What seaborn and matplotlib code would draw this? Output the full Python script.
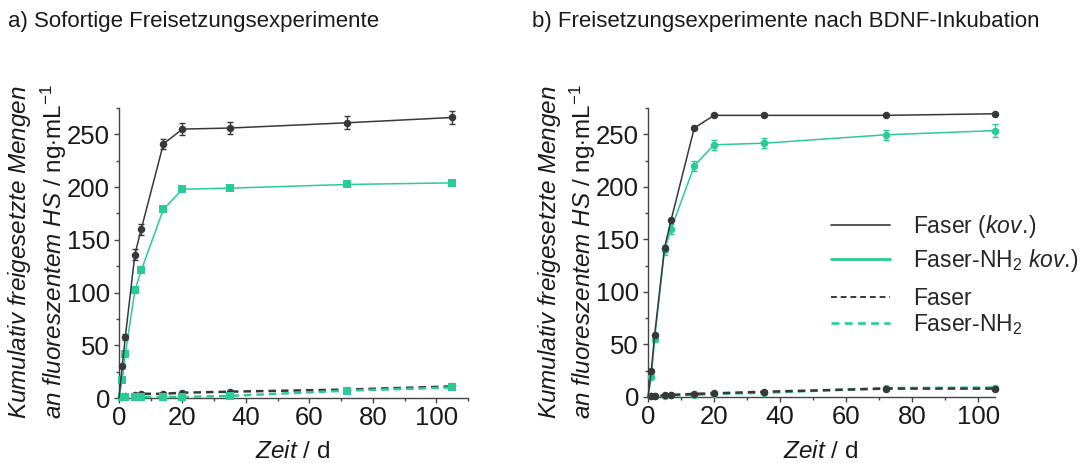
import numpy as np
import pandas as pd
import matplotlib
matplotlib.use("Agg")
import matplotlib.pyplot as plt
import seaborn as sns
from matplotlib.lines import Line2D
from matplotlib.ticker import MultipleLocator

# Sampling days
days = [0, 1, 2, 5, 7, 14, 20, 35, 72, 105]

# a) immediate release
a_faser_kov = [0, 30, 58, 136, 160, 241, 255, 256, 261, 266]
a_faser_kov_err = [0, 2, 3, 5, 5, 5, 6, 6, 6, 6]
a_nh2_kov = [0, 17, 42, 102, 121, 179, 198, 199, 202.5, 204]
a_nh2_kov_err = [0, 1, 1, 1, 1, 1, 1, 1, 1.5, 1.5]
a_faser = [0, 1, 2, 3, 4, 4, 5, 6, 8, 11]
a_faser_err = [0, 0.5, 0.5, 0.5, 0.5, 0.5, 0.5, 1, 1.5, 2]
a_nh2 = [0, 0.5, 1, 1, 1, 1, 1, 2, 7, 10]
a_nh2_err = [0, 0.5, 0.5, 0.5, 0.5, 0.5, 0.5, 0.5, 1, 1.5]

# b) release after BDNF incubation
b_faser_kov = [0, 25, 59, 142, 168.5, 256, 268, 268, 268, 269.5]
b_faser_kov_err = [0, 1, 1, 1, 1, 1, 1, 1, 1, 1]
b_nh2_kov = [0, 19.5, 55, 140, 160, 220, 240, 241.5, 249.5, 253.5]
b_nh2_kov_err = [0, 2, 3, 5, 5, 5, 5, 5, 5, 6]
b_faser = [0, 1, 1, 1.5, 2, 3, 3.5, 5, 8, 8]
b_faser_err = [0, 0.5, 0.5, 0.5, 0.5, 0.5, 0.5, 1, 1, 1]
b_nh2 = [0, 0.5, 0.5, 1, 1.5, 2, 3, 4, 8.5, 9]
b_nh2_err = [0, 0.5, 0.5, 0.5, 0.5, 0.5, 0.5, 0.5, 1, 1]

titles = ["a) Sofortige Freisetzungsexperimente",
          "b) Freisetzungsexperimente nach BDNF-Inkubation"]
legend_labels = ["Faser ($\\mathit{kov.}\\!$)", "Faser-NH$_2$ $\\mathit{kov.}\\!$)",
                 "Faser", "Faser-NH$_2$"]

DARK = "#383838"
GREEN = "#2acb98"

sns.set_style("ticks")
plt.rcParams["font.family"] = ["Liberation Sans", "DejaVu Sans"]
plt.rcParams["mathtext.fontset"] = "custom"
plt.rcParams["mathtext.rm"] = "Liberation Sans"
plt.rcParams["mathtext.it"] = "Liberation Sans:italic"
plt.rcParams["mathtext.bf"] = "Liberation Sans:bold"

W, H = 1081, 463
fig = plt.figure(figsize=(W / 100, H / 100), dpi=100)


def px_axes(l, r, b, t):
    return fig.add_axes([l / W, 1 - b / H, (r - l) / W, (b - t) / H])


ax_a = px_axes(119, 468, 398, 108)
ax_b = px_axes(648, 995, 397, 108)


def draw_series(ax, y, err, color, marker, dashed):
    df = pd.DataFrame({"Zeit": days, "Menge": y})
    sns.lineplot(data=df, x="Zeit", y="Menge", ax=ax, color=color,
                 marker=marker, markersize=5.4, markeredgewidth=0,
                 markevery=list(range(1, len(days))),
                 linewidth=1.8 if dashed else 1.1,
                 linestyle=(0, (3.0, 2.0)) if dashed else "-",
                 clip_on=False, zorder=3, errorbar=None)
    ax.errorbar(days[1:], y[1:], yerr=err[1:], fmt="none", ecolor=color,
                elinewidth=1.0, capsize=2.5, capthick=1.0, zorder=2,
                clip_on=False)


panels = [
    (ax_a, [(a_faser, a_faser_err, DARK, "o", True),
            (a_nh2, a_nh2_err, GREEN, "s", True),
            (a_nh2_kov, a_nh2_kov_err, GREEN, "s", False),
            (a_faser_kov, a_faser_kov_err, DARK, "o", False)], 110),
    (ax_b, [(b_nh2, b_nh2_err, GREEN, "o", True),
            (b_faser, b_faser_err, DARK, "o", True),
            (b_nh2_kov, b_nh2_kov_err, GREEN, "o", False),
            (b_faser_kov, b_faser_kov_err, DARK, "o", False)], 105),
]

for ax, series, xmax in panels:
    for y, err, color, marker, dashed in series:
        draw_series(ax, y, err, color, marker, dashed)
    ax.set_xlim(0, xmax)
    ax.set_ylim(0, 275)
    ax.xaxis.set_major_locator(MultipleLocator(20))
    ax.xaxis.set_minor_locator(MultipleLocator(10))
    ax.yaxis.set_major_locator(MultipleLocator(50))
    ax.yaxis.set_minor_locator(MultipleLocator(25))
    ax.tick_params(axis="both", which="major", direction="out", length=3.5,
                   width=1.0, color="#444444", labelsize=18.5, pad=2.0,
                   labelcolor="#1a1a1a")
    ax.tick_params(axis="both", which="minor", direction="out", length=2,
                   width=1.0, color="#444444")
    ax.tick_params(axis="y", which="major", pad=3.0)
    for side in ("top", "right"):
        ax.spines[side].set_visible(False)
    for side in ("left", "bottom"):
        ax.spines[side].set_color("#444444")
        ax.spines[side].set_linewidth(1.0)
    ax.set_xlabel("")
    ax.set_ylabel("")

ylabel = ("$\\mathit{Kumulativ\\ freigesetzte\\ Mengen}$\n"
          "$\\mathit{an\\ fluoreszentem\\ HS}$ / ng$\\cdot$mL$^{-1}$")
xlabel = "$\\mathit{Zeit}$ / d"

for ax, cx_y, cx_x in [(ax_a, 37.5, 293), (ax_b, 567, 821)]:
    fig.text(cx_y / W, 1 - 252 / H, ylabel, rotation=90, ha="center",
             va="center", fontsize=17.5, linespacing=1.22, color="#1a1a1a")
    fig.text(cx_x / W, 1 - 452 / H, xlabel, ha="center", va="center",
             fontsize=17.5, color="#1a1a1a")

fig.text(8 / W, 1 - 21 / H, titles[0], ha="left", va="center",
         fontsize=16, color="#1a1a1a")
fig.text(532 / W, 1 - 21 / H, titles[1], ha="left", va="center",
         fontsize=16, color="#1a1a1a")

handles_solid = [Line2D([], [], color=DARK, lw=1.2),
                 Line2D([], [], color=GREEN, lw=2.0)]
handles_dash = [Line2D([], [], color=DARK, lw=1.4, ls=(0, (3.0, 2.0))),
                Line2D([], [], color=GREEN, lw=1.9, ls=(0, (3.0, 2.0)))]

leg1 = ax_b.legend(handles_solid, legend_labels[:2], loc="upper left",
                   bbox_to_anchor=(0.527, 0.637), frameon=False, fontsize=16.5,
                   handlelength=2.6, handletextpad=1.0, labelspacing=0.32,
                   borderpad=0, borderaxespad=0)
ax_b.add_artist(leg1)
ax_b.legend(handles_dash, legend_labels[2:], loc="upper left",
            bbox_to_anchor=(0.527, 0.382), frameon=False, fontsize=16.5,
            handlelength=2.6, handletextpad=1.0, labelspacing=0.1,
            borderpad=0, borderaxespad=0)

fig.savefig("out.png", dpi=100, facecolor="white")
